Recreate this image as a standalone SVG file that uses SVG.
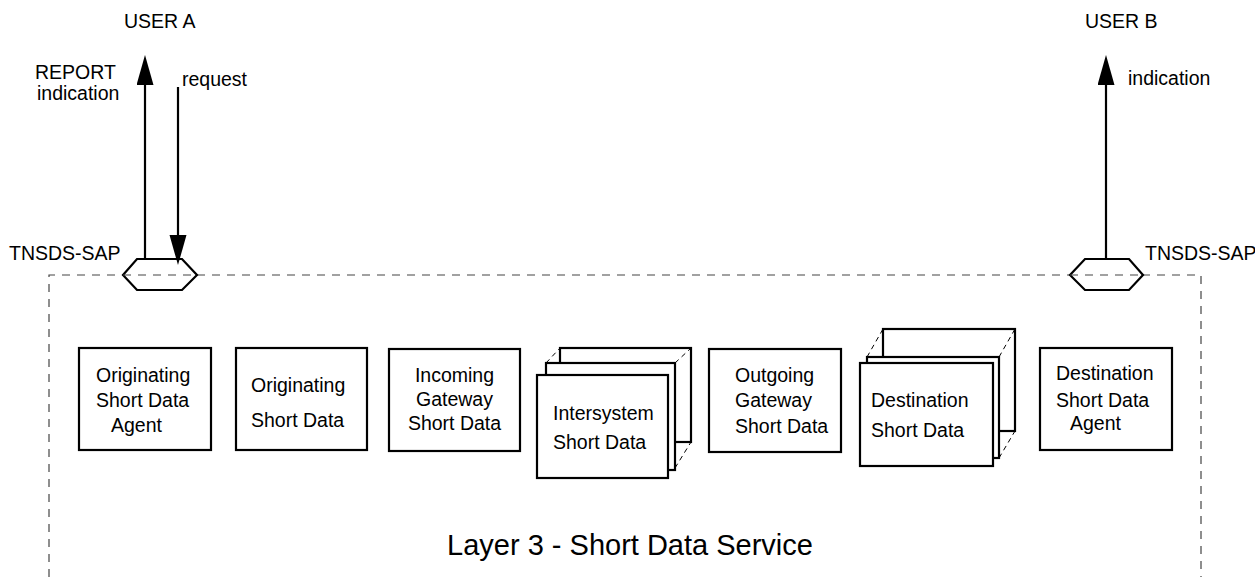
<svg xmlns="http://www.w3.org/2000/svg" width="1255" height="577" viewBox="0 0 1255 577">
<defs>
<style>
text{font-family:"Liberation Sans",Arial,sans-serif;font-size:19.5px;fill:#000}
.title{font-size:29px}
.box{fill:#fff;stroke:#000;stroke-width:2.2}
.hex{fill:#fff;stroke:#000;stroke-width:2.2}
.frame{fill:none;stroke:#444;stroke-width:1.2;stroke-dasharray:8 7}
.hid{fill:none;stroke:#000;stroke-width:1;stroke-dasharray:5 4}
.arr{fill:none;stroke:#000;stroke-width:2.2}
.mid{text-anchor:middle}
</style>
<marker id="ah" markerUnits="userSpaceOnUse" markerWidth="31" markerHeight="18" refX="0" refY="8.5" orient="auto">
<path d="M0,0 L30,8.5 L0,17 z" fill="#000"/>
</marker>
</defs>
<rect width="1255" height="577" fill="#fff"/>

<path class="frame" d="M49,577 V275 H1201 V577"/>

<g id="sap-a">
<polygon class="hex" points="123,275 137,259 182,259 197,275 182,290 137,290"/>
<text x="9" y="260">TNSDS-SAP</text>
</g>
<g id="sap-b">
<polygon class="hex" points="1070,275 1085,259 1129,259 1143,275 1129,290 1085,290"/>
<text x="1145" y="260">TNSDS-SAP</text>
</g>
<path class="frame" d="M123,275 H197 M1070,275 H1143"/>

<g id="user-a"><text x="124" y="28">USER A</text></g>
<g id="user-b"><text x="1085" y="28">USER B</text></g>

<g id="connectors">
<path class="arr" d="M145,259 V85" marker-end="url(#ah)"/>
<path class="arr" d="M178,87 V235" marker-end="url(#ah)"/>
<path class="arr" d="M1106,259 V85" marker-end="url(#ah)"/>
<text x="35" y="79">REPORT</text>
<text x="37" y="100">indication</text>
<text x="182" y="86">request</text>
<text x="1128" y="85">indication</text>
</g>

<g id="osda">
<rect class="box" x="79" y="348" width="132" height="102"/>
<text x="96" y="382">Originating</text>
<text x="96" y="407">Short Data</text>
<text x="111" y="432">Agent</text>
</g>

<g id="osd">
<rect class="box" x="236" y="348" width="131" height="102"/>
<text x="251" y="392">Originating</text>
<text x="251" y="427">Short Data</text>
</g>

<g id="igsd">
<rect class="box" x="389" y="349" width="131" height="102"/>
<text class="mid" x="454.5" y="382">Incoming</text>
<text class="mid" x="454.5" y="406">Gateway</text>
<text class="mid" x="454.5" y="430">Short Data</text>
</g>

<g id="isd">
<rect class="box" x="560" y="348" width="131" height="94"/>
<path class="hid" d="M675,363 L690,349 M675,468 L691,442"/>
<rect class="box" x="546" y="363" width="129" height="107"/>
<path class="hid" d="M546,363 L560,348"/>
<rect class="box" x="537" y="375" width="131" height="103"/>
<text x="553" y="420">Intersystem</text>
<text x="553" y="449">Short Data</text>
</g>

<g id="ogsd">
<rect class="box" x="709" y="349" width="132" height="103"/>
<text x="735" y="382">Outgoing</text>
<text x="735" y="407">Gateway</text>
<text x="735" y="433">Short Data</text>
</g>

<g id="dsd">
<rect class="box" x="883" y="329" width="132" height="102"/>
<path class="hid" d="M999,357 L1015,329 M999,458 L1015,431"/>
<rect class="box" x="867" y="357" width="132" height="101"/>
<path class="hid" d="M867,357 L883,329"/>
<rect class="box" x="860" y="363" width="133" height="103"/>
<text x="871" y="407">Destination</text>
<text x="871" y="437">Short Data</text>
</g>

<g id="dsda">
<rect class="box" x="1040" y="348" width="132" height="102"/>
<text x="1056" y="380">Destination</text>
<text x="1056" y="407">Short Data</text>
<text x="1070" y="430">Agent</text>
</g>

<g id="layer">
<text class="title mid" x="630" y="555">Layer 3 - Short Data Service</text>
</g>
</svg>
